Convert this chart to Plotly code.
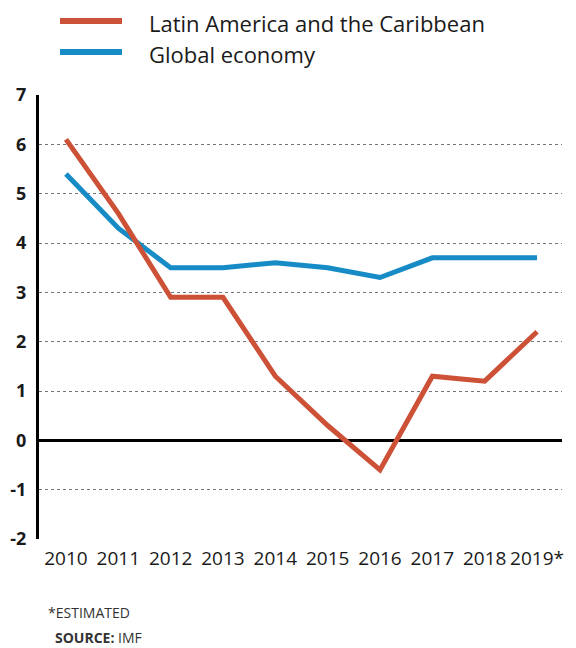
import plotly.graph_objects as go

years = [2010, 2011, 2012, 2013, 2014, 2015, 2016, 2017, 2018, 2019]
year_labels = ["2010", "2011", "2012", "2013", "2014", "2015", "2016", "2017", "2018", "2019*"]
latam = [6.1, 4.6, 2.9, 2.9, 1.3, 0.3, -0.6, 1.3, 1.2, 2.2]
glob = [5.4, 4.3, 3.5, 3.5, 3.6, 3.5, 3.3, 3.7, 3.7, 3.7]
y_ticks = [-2, -1, 0, 1, 2, 3, 4, 5, 6, 7]
y_tick_labels = ["-2", "-1", "0", "1", "2", "3", "4", "5", "6", "7"]

RED = "#cc5136"
BLUE = "#168bc6"
FONT = "Open Sans"

# page offset compensation (browser body margin)
OFF = 8
W, H = 576, 648
PL, PR, PT, PB = 39, 562, 95, 539  # desired plot box in screenshot pixels
ml, mt = PL - OFF, PT - OFF
pw, ph = PR - PL, PB - PT


def px(x):
    return (x - PL) / pw


def py(y):
    return 1 - (y - PT) / ph


fig = go.Figure()
fig.add_trace(go.Scatter(x=years, y=glob, mode="lines", line=dict(color=BLUE, width=5),
                         name="Global economy", showlegend=False))
fig.add_trace(go.Scatter(x=years, y=latam, mode="lines", line=dict(color=RED, width=5),
                         name="Latin America and the Caribbean", showlegend=False))

fig.update_layout(
    width=W, height=H,
    margin=dict(l=ml, r=W - ml - pw, t=mt, b=H - mt - ph, autoexpand=False),
    paper_bgcolor="white", plot_bgcolor="white",
    font=dict(family=FONT, color="#1a1a1a"),
    xaxis=dict(range=[2009.485, 2019.477], tickvals=years, ticktext=year_labels,
               showgrid=False, zeroline=False, showline=False, ticks="",
               tickfont=dict(size=19, color="#1a1a1a"), ticklabelstandoff=6),
    yaxis=dict(range=[-2, 7], tickvals=y_ticks, ticktext=y_tick_labels,
               showgrid=True, gridcolor="#777777",
               griddash="dot", gridwidth=1, zeroline=True, zerolinecolor="#000000",
               zerolinewidth=3, showline=True, linecolor="#000000", linewidth=3,
               ticks="", tickfont=dict(size=18, color="#1a1a1a", weight="bold"),
               ticklabelstandoff=6),
)

legend_items = [("Latin America and the Caribbean", RED, 23), ("Global economy", BLUE, 54)]
for label, col, ypx in legend_items:
    fig.add_shape(type="line", xref="paper", yref="paper",
                  x0=px(60), x1=px(122), y0=py(ypx - 2), y1=py(ypx - 2),
                  line=dict(color=col, width=6))
    fig.add_annotation(xref="paper", yref="paper", x=px(147), y=py(ypx),
                       text=label, showarrow=False, xanchor="left", yanchor="middle",
                       font=dict(size=22, color="#1a1a1a", family=FONT))

fig.add_annotation(xref="paper", yref="paper", x=px(46), y=py(612),
                   text="*ESTIMATED", showarrow=False, xanchor="left", yanchor="middle",
                   font=dict(size=14, color="#333333", family=FONT))
fig.add_annotation(xref="paper", yref="paper", x=px(53), y=py(637),
                   text="<b>SOURCE:</b> IMF", showarrow=False, xanchor="left", yanchor="middle",
                   font=dict(size=14, color="#333333", family=FONT))

fig.write_html("out.html")
